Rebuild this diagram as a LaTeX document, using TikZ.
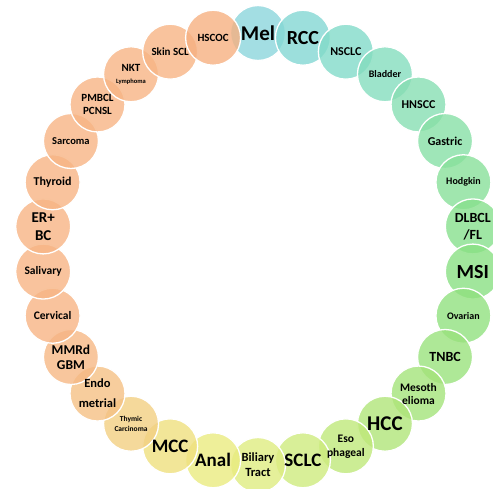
\documentclass[tikz,border=0pt]{standalone}
\usepackage{fontspec}
\setmainfont{Carlito}
\definecolor{cc0}{HTML}{8CD6DC}
\definecolor{cc1}{HTML}{83D7D3}
\definecolor{cc2}{HTML}{82DBC9}
\definecolor{cc3}{HTML}{84DDBE}
\definecolor{cc4}{HTML}{87DEB3}
\definecolor{cc5}{HTML}{87E0A6}
\definecolor{cc6}{HTML}{88E09A}
\definecolor{cc7}{HTML}{87E08D}
\definecolor{cc8}{HTML}{89E083}
\definecolor{cc9}{HTML}{91E17F}
\definecolor{cc10}{HTML}{9AE27D}
\definecolor{cc11}{HTML}{A4E37A}
\definecolor{cc12}{HTML}{B0E579}
\definecolor{cc13}{HTML}{BFE87A}
\definecolor{cc14}{HTML}{CEEB7E}
\definecolor{cc15}{HTML}{DEEC81}
\definecolor{cc16}{HTML}{EAEB7F}
\definecolor{cc17}{HTML}{EFE07E}
\definecolor{cc18}{HTML}{F2CF82}
\definecolor{cc19}{HTML}{F5C184}
\definecolor{cc20}{HTML}{F6B884}
\definecolor{cc21}{HTML}{F7B484}
\definecolor{cc22}{HTML}{F7B484}
\definecolor{cc23}{HTML}{F7B484}
\definecolor{cc24}{HTML}{F7B484}
\definecolor{cc25}{HTML}{F7B484}
\definecolor{cc26}{HTML}{F7B484}
\definecolor{cc27}{HTML}{F7B484}
\definecolor{cc28}{HTML}{F7B484}
\definecolor{cc29}{HTML}{F6B081}
\begin{document}
\begin{tikzpicture}[x=1pt,y=-1pt,
  ring/.style={circle,minimum size=55pt,inner sep=0pt,draw=white,line width=1.3pt,fill opacity=0.8,draw opacity=1},
  lbl/.style={align=center,text=black,inner sep=0pt,text opacity=1}]
\useasboundingbox (0,0) rectangle (493,489);
\clip (0,0) rectangle (493,489);
\foreach \i in {0,...,29} {
  \node[ring,fill=cc\i] (c\i) at ({258+216*cos(90-12*\i)},{249-216*sin(90-12*\i)}) {};
}
\foreach \i/\t/\s/\b in {
  0/Mel/21/23,
  1/RCC/20/22,
  2/NSCLC/12/14,
  3/Bladder/10/12,
  4/HNSCC/12/14,
  5/Gastric/12/14,
  6/Hodgkin/10/12,
  7/{DLBCL\\/FL}/14/17,
  8/MSI/20/22,
  9/Ovarian/10/12,
  10/TNBC/14/16,
  11/{Mesoth\\elioma}/11.5/13,
  12/HCC/21/23,
  13/{Eso\\phageal}/11.5/14,
  14/SCLC/19/21,
  15/{Biliary\\Tract}/12.5/15,
  16/Anal/19/21,
  17/MCC/19/21,
  18/{Thymic\\Carcinoma}/7.5/9.5,
  19/{Endo\\metrial}/12.5/20,
  20/{MMRd\\GBM}/13.5/15,
  21/Cervical/11.5/13,
  22/Salivary/11.5/13,
  23/{ER+\\BC}/15/18,
  24/Thyroid/12/14,
  25/Sarcoma/10.5/12,
  26/{PMBCL\\PCNSL}/11/13,
  27/{NKT\\{\fontsize{6.5}{7.5}\selectfont Lymphoma}}/11/12,
  28/Skin SCL/11/13,
  29/HSCOC/11/13} {
  \node[lbl,font=\bfseries\fontsize{\s}{\b}\selectfont] (t\i) at (c\i.center) {\t};
}
\end{tikzpicture}
\end{document}
